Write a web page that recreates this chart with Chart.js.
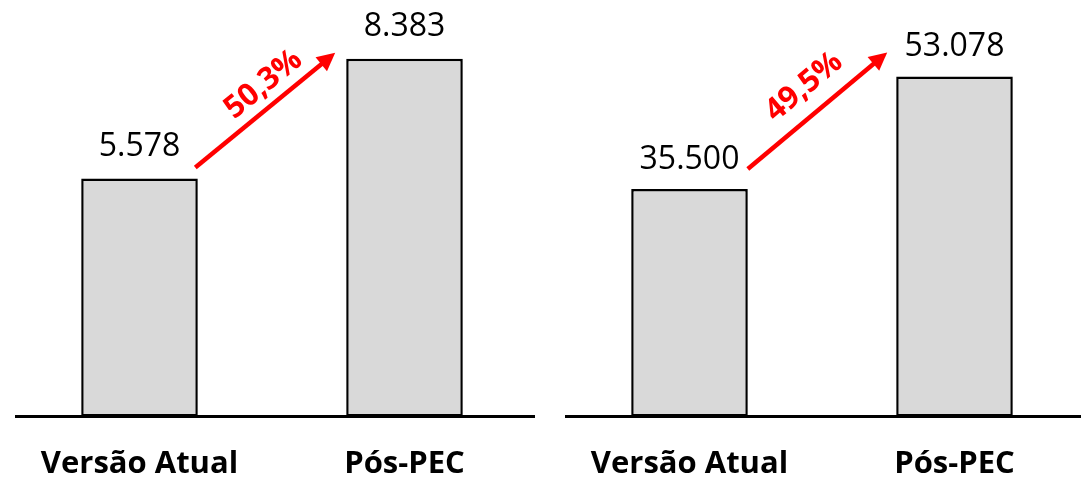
<!DOCTYPE html>
<html>
<head>
<meta charset="utf-8">
<script src="https://cdn.jsdelivr.net/npm/chart.js@4.4.0/dist/chart.umd.min.js"></script>
<style>
html, body { margin: 0; padding: 0; background: #fff; }
#wrap { position: relative; width: 1081px; height: 478px; overflow: hidden; }
canvas { position: absolute; top: 0; }
</style>
</head>
<body>
<div id="wrap">
	<canvas id="chartLeft" width="540" height="478" style="left:0"></canvas>
	<canvas id="chartRight" width="550" height="478" style="left:540px"></canvas>
</div>
<script>
// data
const categories = ['Versão Atual', 'Pós-PEC']
const valuesLeft = [5578, 8383]
const valuesRight = [35500, 53078]
const growthLeft = '50,3%'
const growthRight = '49,5%'

function fmt(v) { //thousands separator like pt-BR
	return String(v).replace(/\B(?=(\d{3})+(?!\d))/g, '.')
}

const barExtras = {
	id: 'barExtras',
	afterDatasetsDraw(chart, args, opts) {
		const ctx = chart.ctx
		const bars = chart.getDatasetMeta(0).data
		const data = chart.data.datasets[0].data
		const yBase = chart.scales.y.getPixelForValue(0)
		ctx.save()
		//baseline
		ctx.strokeStyle = '#000'
		ctx.lineWidth = 3
		ctx.beginPath()
		ctx.moveTo(opts.lineFrom, yBase)
		ctx.lineTo(opts.lineTo, yBase)
		ctx.stroke()
		//value labels above bars
		ctx.font = '32px "Open Sans"'
		ctx.fillStyle = '#000'
		ctx.textAlign = 'center'
		ctx.textBaseline = 'middle'
		bars.forEach((b, i) => ctx.fillText(fmt(data[i]), b.x, b.y - opts.labelGap))
		//red arrow between the bars
		const b0 = bars[0], b1 = bars[1]
		const x0 = b0.x + b0.width / 2 + opts.arrowStart[0], y0 = b0.y + opts.arrowStart[1]
		const x1 = b1.x - b1.width / 2 + opts.arrowEnd[0], y1 = b1.y + opts.arrowEnd[1]
		const ang = Math.atan2(y1 - y0, x1 - x0)
		const cos = Math.cos(ang), sin = Math.sin(ang)
		const head = 18, half = 9
		const hx = x1 - head * cos, hy = y1 - head * sin
		ctx.strokeStyle = '#ff0000'
		ctx.fillStyle = '#ff0000'
		ctx.lineWidth = 4.5
		ctx.beginPath()
		ctx.moveTo(x0, y0)
		ctx.lineTo(hx + 2 * cos, hy + 2 * sin)
		ctx.stroke()
		ctx.beginPath()
		ctx.moveTo(x1, y1)
		ctx.lineTo(hx + half * sin, hy - half * cos)
		ctx.lineTo(hx - half * sin, hy + half * cos)
		ctx.closePath()
		ctx.fill()
		//growth text along the arrow
		const [along, off] = opts.textShift
		const mx = (x0 + x1) / 2 + along * cos + off * sin
		const my = (y0 + y1) / 2 + along * sin - off * cos
		ctx.translate(mx, my)
		ctx.rotate(ang)
		ctx.font = 'bold 31px "Open Sans"'
		ctx.fillText(opts.growth, 0, 0)
		ctx.restore()
	}
}

function makeChart(canvasId, values, yMax, padLeft, padRight, extras) {
	return new Chart(document.getElementById(canvasId), {
		type: 'bar',
		data: {
			labels: categories,
			datasets: [{
				data: values,
				backgroundColor: '#d9d9d9',
				borderColor: '#000',
				borderWidth: 2.5,
				borderSkipped: false,
				categoryPercentage: 1,
				barPercentage: 0.44
			}]
		},
		options: {
			responsive: false,
			animation: false,
			layout: { padding: { left: padLeft, right: padRight, top: 0, bottom: 0 } },
			plugins: {
				legend: { display: false },
				tooltip: { enabled: false },
				barExtras: extras
			},
			scales: {
				x: {
					border: { display: false },
					grid: { display: true, drawOnChartArea: false, color: 'rgba(0,0,0,0)', tickLength: 33.6 },
					ticks: {
						padding: 0,
						color: '#000',
						font: { family: '"Open Sans"', size: 31, weight: 'bold', lineHeight: 0.9 }
					}
				},
				y: { display: false, min: 0, max: yMax }
			}
		},
		plugins: [barExtras]
	})
}

makeChart('chartLeft', valuesLeft, 9760, 7, 3, {
	lineFrom: 15, lineTo: 535, labelGap: 32,
	arrowStart: [-2.5, -11], arrowEnd: [-11, -6], textShift: [15, 21],
	growth: growthLeft
})
makeChart('chartRight', valuesRight, 65000, 17, 3, {
	lineFrom: 25, lineTo: 550, labelGap: 29.5,
	arrowStart: [0, -20], arrowEnd: [-9, -24], textShift: [5, 27],
	growth: growthRight
})
</script>
</body>
</html>
